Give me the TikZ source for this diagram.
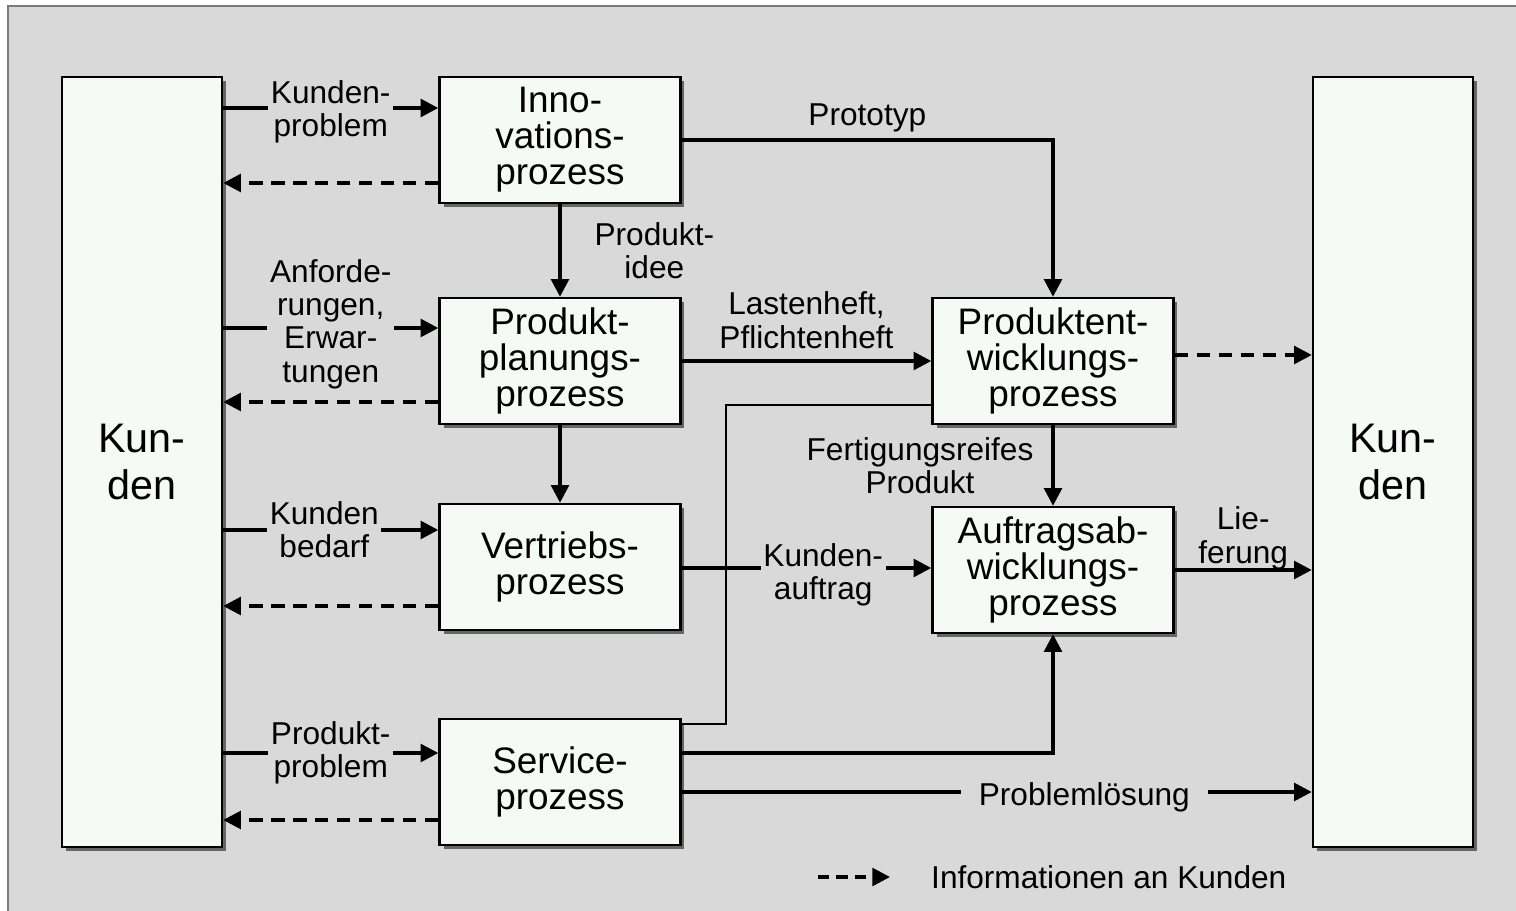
\documentclass[tikz,border=0pt]{standalone}
\usepackage{fontspec}
\setmainfont{Liberation Sans}
\usetikzlibrary{arrows.meta,shadows}

\definecolor{bggray}{HTML}{D9D9D9}
\definecolor{boxfill}{HTML}{F6FAF7}
\definecolor{framegray}{HTML}{7A7A7A}

\begin{document}
\begin{tikzpicture}[x=0.02cm,y=-0.02cm]
    \tikzset{
      ProcStyle/.style = { rectangle, draw, line width=1.4pt, fill=boxfill,
                  minimum width=4.82cm, minimum height=2.52cm, inner sep=0pt,
                  align=center, font=\fontsize{21}{20.5}\selectfont,
                  drop shadow={shadow xshift=0.08cm, shadow yshift=-0.08cm,
                               opacity=1, fill=black!60} },
      KundeStyle/.style = { ProcStyle, minimum width=3.2cm, minimum height=15.4cm,
                  font=\fontsize{23.5}{27}\selectfont },
      TextStyle/.style = { align=center, font=\fontsize{18}{19}\selectfont },
      LabelStyle/.style = { TextStyle, fill=bggray, inner sep=1.5pt },
      EdgeStyle/.style = { line width=2pt, -{Triangle[length=10pt,width=10pt]} },
      InfoStyle/.style = { EdgeStyle, dash pattern=on 7.5pt off 5pt } }

    \useasboundingbox (0,0) rectangle (1516,911);
    \fill[white] (0,0) rectangle (1516,911);
    \draw[fill=bggray, draw=framegray, line width=1pt] (8,6) rectangle (1520,915);

    % Kunden und Prozesse
    \node[KundeStyle] (kunL) at (142,462) {Kun-\\den};
    \node[KundeStyle] (kunR) at (1393,462) {Kun-\\den};
    \node[ProcStyle] (inno) at (560,140) {Inno-\\vations-\\prozess};
    \node[ProcStyle] (plan) at (560,361) {Produkt-\\planungs-\\prozess};
    \node[ProcStyle] (vert) at (560,567) {Vertriebs-\\prozess};
    \node[ProcStyle] (serv) at (560,782) {Service-\\prozess};
    \node[ProcStyle] (entw) at (1053,361) {Produktent-\\wicklungs-\\prozess};
    \node[ProcStyle] (auft) at (1053,570) {Auftragsab-\\wicklungs-\\prozess};

    % Kunde <-> Prozesse
    \draw[EdgeStyle] (kunL.east |- 0,108) -- node[LabelStyle, yshift=-0.08cm]{Kunden-\\problem} (inno.west |- 0,108);
    \draw[InfoStyle] (inno.west |- 0,183) -- (kunL.east |- 0,183);
    \draw[EdgeStyle] (kunL.east |- 0,328) -- node[LabelStyle, yshift=0.08cm]{Anforde-\\rungen,\\Erwar-\\tungen} (plan.west |- 0,328);
    \draw[InfoStyle] (plan.west |- 0,402) -- (kunL.east |- 0,402);
    \draw[EdgeStyle] (kunL.east |- 0,530) -- node[LabelStyle, pos=0.47]{Kunden\\bedarf} (vert.west |- 0,530);
    \draw[InfoStyle] (vert.west |- 0,606) -- (kunL.east |- 0,606);
    \draw[EdgeStyle] (kunL.east |- 0,753) -- node[LabelStyle]{Produkt-\\problem} (serv.west |- 0,753);
    \draw[InfoStyle] (serv.west |- 0,820) -- (kunL.east |- 0,820);

    % zwischen den Prozessen
    \draw[EdgeStyle] (inno) -- node[TextStyle, right, xshift=0.54cm]{Produkt-\\idee} (plan);
    \draw[EdgeStyle] (inno.east) -| node[TextStyle, above, pos=0.25]{Prototyp} (entw.north);
    \draw[EdgeStyle] (plan) -- node[TextStyle, above, yshift=0.1cm]{Lastenheft,\\Pflichtenheft} (entw);
    \draw[EdgeStyle] (plan) -- (vert);
    \draw[InfoStyle] (entw.east |- 0,355) -- (kunR.west |- 0,355);
    \draw[EdgeStyle] (entw) -- node[TextStyle, left, xshift=-0.24cm]{Fertigungsreifes\\Produkt} (auft);
    \draw[line width=1.2pt] (serv.east |- 0,724) -- ++(44,0) |- (entw.west |- 0,405);
    \draw[EdgeStyle] (vert.east |- 0,568) -- node[LabelStyle, pos=0.567, yshift=-0.14cm]{Kunden-\\auftrag} (auft.west |- 0,568);
    \draw[EdgeStyle] (auft.east |- 0,570) -- node[TextStyle, above, yshift=-0.15cm]{Lie-\\ferung} (kunR.west |- 0,570);
    \draw[EdgeStyle] (serv.east |- 0,753) -| (auft.south);
    \draw[EdgeStyle] (serv.east |- 0,792) -- node[LabelStyle, pos=0.639, inner xsep=0.36cm, yshift=-0.1cm]{Problemlösung} (kunR.west |- 0,792);

    % Legende
    \coordinate (legA) at (818,877);
    \node[TextStyle, right] (legT) at (925,877) {Informationen an Kunden};
    \draw[InfoStyle, dash pattern=on 6.5pt off 4pt] (legA) -- ([xshift=-0.7cm]legT.west);
\end{tikzpicture}
\end{document}
